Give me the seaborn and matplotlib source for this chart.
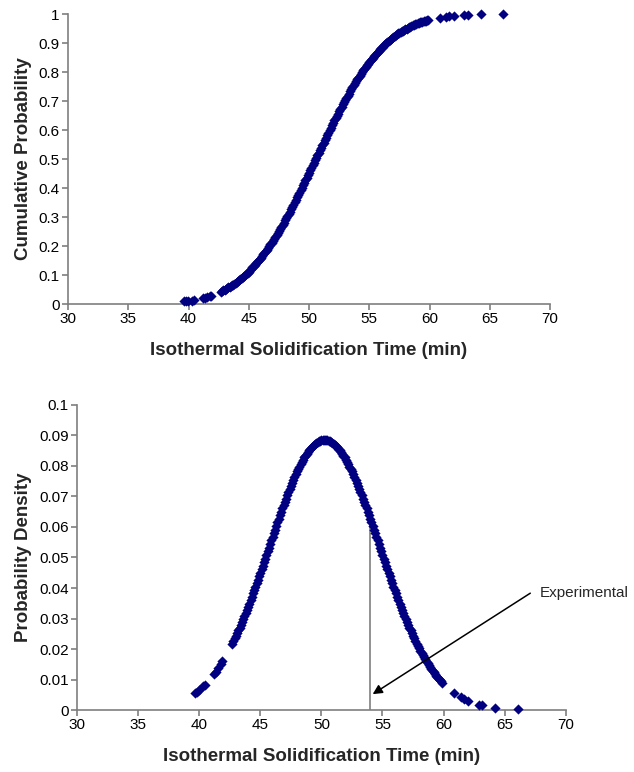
import numpy as np
import matplotlib
matplotlib.use("Agg")
import matplotlib.pyplot as plt
from matplotlib.ticker import FuncFormatter, MultipleLocator
import seaborn as sns

# solidification times (min) of the simulated samples
solid_time = [
    39.65, 39.8, 39.95, 40.3, 40.45, 41.2, 41.35, 41.55, 41.75, 41.9,
    42.7, 42.9, 43.1, 43.3, 43.5, 43.7, 43.9, 44.1, 44.3, 44.5,
    44.7, 44.9, 45.1, 45.3, 45.5, 45.7, 45.9, 46.1, 46.3, 46.5,
    46.7, 46.9, 47.1, 47.3, 47.5, 47.7, 47.9, 48.1, 48.3, 48.5,
    48.7, 48.9, 49.1, 49.3, 49.5, 49.7, 49.9, 50.1, 50.3, 50.5,
    50.7, 50.9, 51.1, 51.3, 51.5, 51.7, 51.9, 52.1, 52.3, 52.5,
    52.7, 52.9, 53.1, 53.3, 53.5, 53.7, 53.9, 54.1, 54.3, 54.5,
    54.7, 54.9, 55.1, 55.3, 55.5, 55.7, 55.9, 56.1, 56.3, 56.5,
    56.7, 56.9, 57.1, 57.3, 57.5, 57.7, 57.9, 58.1, 58.3, 58.5,
    58.7, 58.9, 59.1, 59.3, 59.5, 59.7, 59.9,
    60.85, 61.4, 61.65, 62.0, 62.9, 63.15, 64.25, 66.1,
    # second batch, dense part of the band
    42.8, 43.0, 43.2, 43.4, 43.6, 43.8, 44.0, 44.2, 44.4, 44.6,
    44.8, 45.0, 45.2, 45.4, 45.6, 45.8, 46.0, 46.2, 46.4, 46.6,
    46.8, 47.0, 47.2, 47.4, 47.6, 47.8, 48.0, 48.2, 48.4, 48.6,
    48.8, 49.0, 49.2, 49.4, 49.6, 49.8, 50.0, 50.2, 50.4, 50.6,
    50.8, 51.0, 51.2, 51.4, 51.6, 51.8, 52.0, 52.2, 52.4, 52.6,
    52.8, 53.0, 53.2, 53.4, 53.6, 53.8, 54.0, 54.2, 54.4, 54.6,
    54.8, 55.0, 55.2, 55.4, 55.6, 55.8, 56.0, 56.2, 56.4, 56.6,
    56.8, 57.0, 57.2, 57.4, 57.6, 57.8, 58.0, 58.2, 58.4, 58.6,
    58.8, 59.0, 59.2, 59.4, 59.6, 59.8,
]

cum_prob = [
    0.009, 0.009, 0.010, 0.012, 0.014, 0.020, 0.022, 0.025, 0.027, 0.029,
    0.043, 0.047, 0.052, 0.057, 0.062, 0.067, 0.073, 0.079, 0.086, 0.093,
    0.100, 0.108, 0.117, 0.126, 0.135, 0.145, 0.155, 0.165, 0.176, 0.188,
    0.200, 0.212, 0.225, 0.239, 0.253, 0.266, 0.281, 0.296, 0.311, 0.327,
    0.343, 0.359, 0.376, 0.392, 0.409, 0.426, 0.444, 0.461, 0.478, 0.496,
    0.513, 0.531, 0.548, 0.565, 0.582, 0.599, 0.616, 0.633, 0.649, 0.665,
    0.681, 0.696, 0.711, 0.726, 0.740, 0.754, 0.768, 0.781, 0.794, 0.806,
    0.818, 0.829, 0.840, 0.850, 0.860, 0.870, 0.879, 0.888, 0.896, 0.904,
    0.911, 0.918, 0.924, 0.930, 0.936, 0.941, 0.946, 0.950, 0.955, 0.959,
    0.963, 0.966, 0.969, 0.972, 0.975, 0.977, 0.980,
    0.988, 0.991, 0.992, 0.994, 0.997, 0.997, 0.999, 1.000,
    # second batch
    0.045, 0.050, 0.054, 0.059, 0.064, 0.070, 0.076, 0.082, 0.089, 0.096,
    0.104, 0.112, 0.121, 0.130, 0.140, 0.150, 0.160, 0.171, 0.182, 0.194,
    0.206, 0.219, 0.232, 0.246, 0.260, 0.274, 0.289, 0.304, 0.319, 0.335,
    0.351, 0.368, 0.384, 0.401, 0.418, 0.435, 0.452, 0.469, 0.487, 0.504,
    0.522, 0.539, 0.556, 0.574, 0.591, 0.608, 0.624, 0.641, 0.657, 0.673,
    0.689, 0.704, 0.719, 0.733, 0.747, 0.761, 0.775, 0.788, 0.800, 0.812,
    0.824, 0.835, 0.845, 0.855, 0.865, 0.874, 0.883, 0.892, 0.900, 0.907,
    0.914, 0.921, 0.927, 0.933, 0.938, 0.943, 0.948, 0.953, 0.957, 0.961,
    0.965, 0.968, 0.971, 0.974, 0.976, 0.978,
]

prob_density = [
    0.0056, 0.0060, 0.0065, 0.0078, 0.0083, 0.0118, 0.0126, 0.0138, 0.0150, 0.0160,
    0.0218, 0.0235, 0.0252, 0.0270, 0.0289, 0.0308, 0.0328, 0.0349, 0.0371, 0.0393,
    0.0415, 0.0438, 0.0461, 0.0485, 0.0508, 0.0532, 0.0556, 0.0580, 0.0603, 0.0626,
    0.0649, 0.0672, 0.0693, 0.0715, 0.0735, 0.0754, 0.0773, 0.0790, 0.0806, 0.0821,
    0.0834, 0.0846, 0.0857, 0.0866, 0.0873, 0.0879, 0.0882, 0.0885, 0.0885, 0.0884,
    0.0881, 0.0876, 0.0869, 0.0861, 0.0852, 0.0840, 0.0828, 0.0814, 0.0798, 0.0782,
    0.0764, 0.0745, 0.0725, 0.0704, 0.0683, 0.0661, 0.0638, 0.0615, 0.0591, 0.0568,
    0.0544, 0.0520, 0.0496, 0.0473, 0.0450, 0.0427, 0.0404, 0.0382, 0.0360, 0.0339,
    0.0318, 0.0298, 0.0279, 0.0261, 0.0243, 0.0226, 0.0210, 0.0195, 0.0180, 0.0166,
    0.0153, 0.0141, 0.0129, 0.0118, 0.0108, 0.0099, 0.0090,
    0.0056, 0.0042, 0.0036, 0.0030, 0.0017, 0.0015, 0.0007, 0.0002,
    # second batch
    0.0226, 0.0243, 0.0261, 0.0279, 0.0298, 0.0318, 0.0339, 0.0360, 0.0382, 0.0404,
    0.0427, 0.0450, 0.0473, 0.0496, 0.0520, 0.0544, 0.0568, 0.0591, 0.0615, 0.0638,
    0.0661, 0.0683, 0.0704, 0.0725, 0.0745, 0.0764, 0.0782, 0.0798, 0.0814, 0.0828,
    0.0840, 0.0852, 0.0861, 0.0869, 0.0876, 0.0881, 0.0884, 0.0885, 0.0884, 0.0882,
    0.0879, 0.0873, 0.0866, 0.0857, 0.0846, 0.0834, 0.0821, 0.0806, 0.0790, 0.0773,
    0.0754, 0.0735, 0.0715, 0.0693, 0.0672, 0.0649, 0.0626, 0.0603, 0.0580, 0.0556,
    0.0532, 0.0508, 0.0485, 0.0461, 0.0438, 0.0415, 0.0393, 0.0371, 0.0349, 0.0328,
    0.0308, 0.0289, 0.0270, 0.0252, 0.0235, 0.0218, 0.0202, 0.0187, 0.0173, 0.0160,
    0.0147, 0.0135, 0.0124, 0.0113, 0.0103, 0.0094,
]

# measured solidification time marked on the density plot
exp_time = 54.0
exp_density = 0.0623

sns.set_style("ticks")
plt.rcParams["font.family"] = ["Liberation Sans", "DejaVu Sans"]

MARK = "#000080"
AXC = "#7f7f7f"

fig = plt.figure(figsize=(6.34, 7.72), dpi=100)
ax1 = fig.add_axes([0.1073, 0.6062, 0.7603, 0.3756])
ax2 = fig.add_axes([0.1215, 0.0803, 0.7708, 0.3951])

fmt = FuncFormatter(lambda v, p: "%g" % round(v, 4))


def style_axis(ax):
    sns.despine(ax=ax)
    for side in ["left", "bottom"]:
        ax.spines[side].set_color(AXC)
        ax.spines[side].set_linewidth(1.2)
    ax.tick_params(axis="both", direction="out", length=4, width=1.2,
                   color=AXC, labelsize=11, labelcolor="black", pad=2)
    ax.xaxis.set_major_locator(MultipleLocator(5))
    ax.set_xlim(30, 70)
    ax.yaxis.set_major_formatter(fmt)
    ax.set_xlabel("Isothermal Solidification Time (min)", fontsize=13.5,
                  fontweight="bold", labelpad=11)


# top: cumulative probability
sns.scatterplot(x=solid_time, y=cum_prob, marker="D", s=27, color=MARK,
                linewidth=0, ax=ax1, zorder=3, clip_on=False)
style_axis(ax1)
ax1.set_ylim(0, 1)
ax1.yaxis.set_major_locator(MultipleLocator(0.1))
ax1.set_ylabel("Cumulative Probability", fontsize=13.5, fontweight="bold", labelpad=5)

# bottom: probability density
ax2.vlines(exp_time, 0, exp_density, color=AXC, lw=1.2, zorder=2)
sns.scatterplot(x=solid_time, y=prob_density, marker="D", s=27, color=MARK,
                linewidth=0, ax=ax2, zorder=3, clip_on=False)
style_axis(ax2)
ax2.set_ylim(0, 0.1)
ax2.yaxis.set_major_locator(MultipleLocator(0.01))
ax2.set_ylabel("Probability Density", fontsize=13.5, fontweight="bold", labelpad=5)

ax2.annotate("", xy=(54.2, 0.0052), xytext=(67.1, 0.0383),
             arrowprops=dict(arrowstyle="-|>", color="black", lw=1.1,
                             mutation_scale=14, shrinkA=0, shrinkB=0), zorder=4)
ax2.text(67.9, 0.0383, "Experimental", fontsize=11, ha="left", va="center",
         clip_on=False)

fig.savefig("out.png", dpi=100)
